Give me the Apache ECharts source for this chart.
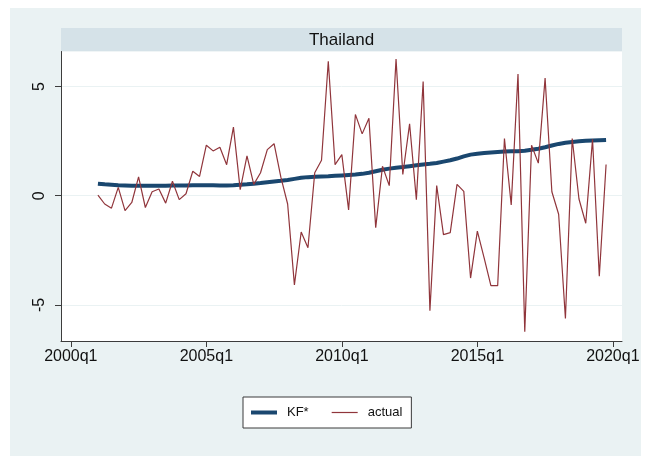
<!DOCTYPE html>
<html>
<head>
<meta charset="utf-8">
<title>Thailand</title>
<script src="https://cdn.jsdelivr.net/npm/echarts@6/dist/echarts.min.js"></script>
<style>
  html, body { margin: 0; padding: 0; background: #ffffff; }
  #chart { width: 648px; height: 464px; }
</style>
</head>
<body>
<div id="chart"></div>
<script>
// Quarterly series, 2001q1 .. 2019q4 (76 quarters)
const firstYear = 2001;
const quarters = [];
for (let y = firstYear; y <= 2019; y++) {
  for (let q = 1; q <= 4; q++) quarters.push(y + 'q' + q);
}

// Kalman-filtered trend (KF*)
const kf = [
  0.55, 0.52, 0.50, 0.48, 0.47, 0.46, 0.46, 0.46, 0.46, 0.46, 0.46, 0.47, 0.47, 0.47, 0.48, 0.48,
  0.48, 0.48, 0.47, 0.47, 0.48, 0.50, 0.52, 0.55, 0.58, 0.62, 0.65, 0.68, 0.72, 0.77, 0.82, 0.85,
  0.87, 0.88, 0.89, 0.91, 0.93, 0.95, 0.97, 1.00, 1.05, 1.12, 1.19, 1.24, 1.28, 1.31, 1.35, 1.39,
  1.43, 1.46, 1.50, 1.56, 1.62, 1.70, 1.80, 1.88, 1.92, 1.95, 1.98, 2.00, 2.02, 2.03, 2.04, 2.06,
  2.10, 2.15, 2.22, 2.30, 2.37, 2.42, 2.46, 2.49, 2.51, 2.53, 2.54, 2.55
];

// Observed growth (actual)
const actual = [
  0.03, -0.38, -0.57, 0.38, -0.68, -0.31, 0.86, -0.54, 0.18, 0.31, -0.34, 0.66, -0.18, 0.09, 1.12, 0.88,
  2.31, 2.05, 2.22, 1.42, 3.14, 0.28, 1.82, 0.52, 1.05, 2.11, 2.38, 0.85, -0.38, -4.08, -1.66, -2.38,
  1.05, 1.62, 6.15, 1.42, 1.88, -0.65, 3.72, 2.83, 3.54, -1.46, 1.35, 0.46, 6.26, 0.97, 3.29, -0.18,
  5.23, -5.26, 0.46, -1.78, -1.69, 0.52, 0.20, -3.77, -1.62, -2.85, -4.12, -4.12, 2.62, -0.42, 5.57, -6.23,
  2.31, 1.49, 5.38, 0.18, -0.85, -5.62, 2.62, -0.15, -1.26, 2.58, -3.69, 1.43
];

// Axis ticks: x in quarters since 2000q1
const xTickValues = [0, 20, 40, 60, 80];
const xTickLabels = ['2000q1', '2005q1', '2010q1', '2015q1', '2020q1'];
const yTickValues = [-5, 0, 5];
const yTickLabels = ['-5', '0', '5'];

const seriesNames = ['KF*', 'actual'];

// quarter label -> index counted from 2000q1
function quarterIndex(label) {
  const y = parseInt(label.slice(0, 4), 10);
  const q = parseInt(label.slice(5), 10);
  return (y - 2000) * 4 + (q - 1);
}
const kfData = quarters.map((qt, i) => [quarterIndex(qt), kf[i]]);
const actualData = quarters.map((qt, i) => [quarterIndex(qt), actual[i]]);

const NAVY = '#1a476f';
const MAROON = '#90353b';
const FONT = '"Liberation Sans", Arial, sans-serif';

const chart = echarts.init(document.getElementById('chart'), null, { renderer: 'canvas' });

const plotLeft = 61, plotRight = 622, plotTop = 51.5, plotBottom = 341;

chart.setOption({
  animation: false,
  backgroundColor: '#ffffff',
  textStyle: { fontFamily: FONT },
  graphic: [
    {
      type: 'rect', z: -10, silent: true,
      shape: { x: 10, y: 8, width: 631, height: 448 },
      style: { fill: '#eaf2f3' }
    },
    {
      type: 'rect', z: -9, silent: true,
      shape: { x: plotLeft, y: 28, width: plotRight - plotLeft, height: plotTop - 28 },
      style: { fill: '#d5e2e8' }
    },
    {
      type: 'text', z: 5, silent: true,
      x: (plotLeft + plotRight) / 2, y: 40,
      style: {
        text: 'Thailand', fill: '#111111', font: '17px ' + FONT,
        align: 'center', verticalAlign: 'middle'
      }
    }
  ],
  grid: {
    left: plotLeft, top: plotTop,
    width: plotRight - plotLeft, height: plotBottom - plotTop,
    show: true, backgroundColor: '#ffffff', borderWidth: 0,
    containLabel: false
  },
  legend: {
    data: [
      { name: seriesNames[0], icon: 'path://M0,0H26V4H0Z', itemStyle: { color: NAVY } },
      { name: seriesNames[1], icon: 'path://M0,0H26V1.2H0Z', itemStyle: { color: MAROON } }
    ],
    left: 243, top: 397,
    orient: 'horizontal',
    backgroundColor: '#ffffff',
    borderColor: '#3a3a3a', borderWidth: 1,
    padding: [9, 9, 9, 8],
    itemWidth: 26, itemHeight: 14, itemGap: 23,
    textStyle: { fontSize: 13, color: '#111111', fontFamily: FONT, padding: [0, 0, 0, 5] }
  },
  xAxis: {
    type: 'value',
    min: -1.45, max: 81.35,
    axisLine: { show: true, onZero: false, lineStyle: { color: '#3c3c3c', width: 1 } },
    axisTick: { show: true, length: 6, customValues: xTickValues, lineStyle: { color: '#3c3c3c' } },
    axisLabel: {
      customValues: xTickValues,
      formatter: v => xTickLabels[xTickValues.indexOf(v)],
      fontSize: 16, color: '#111111', margin: 8, fontFamily: FONT
    },
    splitLine: { show: false }
  },
  yAxis: {
    type: 'value',
    min: -6.65, max: 6.6,
    axisLine: { show: true, onZero: false, lineStyle: { color: '#3c3c3c', width: 1 } },
    axisTick: { show: true, length: 6, customValues: yTickValues, lineStyle: { color: '#3c3c3c' } },
    axisLabel: {
      customValues: yTickValues,
      formatter: v => yTickLabels[yTickValues.indexOf(v)],
      rotate: 90, fontSize: 16, color: '#111111', margin: 13, fontFamily: FONT
    },
    splitLine: { show: true, lineStyle: { color: '#eaf2f3', width: 1 } }
  },
  series: [
    {
      name: 'KF*', type: 'line', data: kfData,
      showSymbol: false, symbol: 'none', z: 3,
      lineStyle: { color: NAVY, width: 4 },
      itemStyle: { color: NAVY }
    },
    {
      name: 'actual', type: 'line', data: actualData,
      showSymbol: false, symbol: 'none', z: 4,
      lineStyle: { color: MAROON, width: 1.2 },
      itemStyle: { color: MAROON }
    }
  ]
});
</script>
</body>
</html>
